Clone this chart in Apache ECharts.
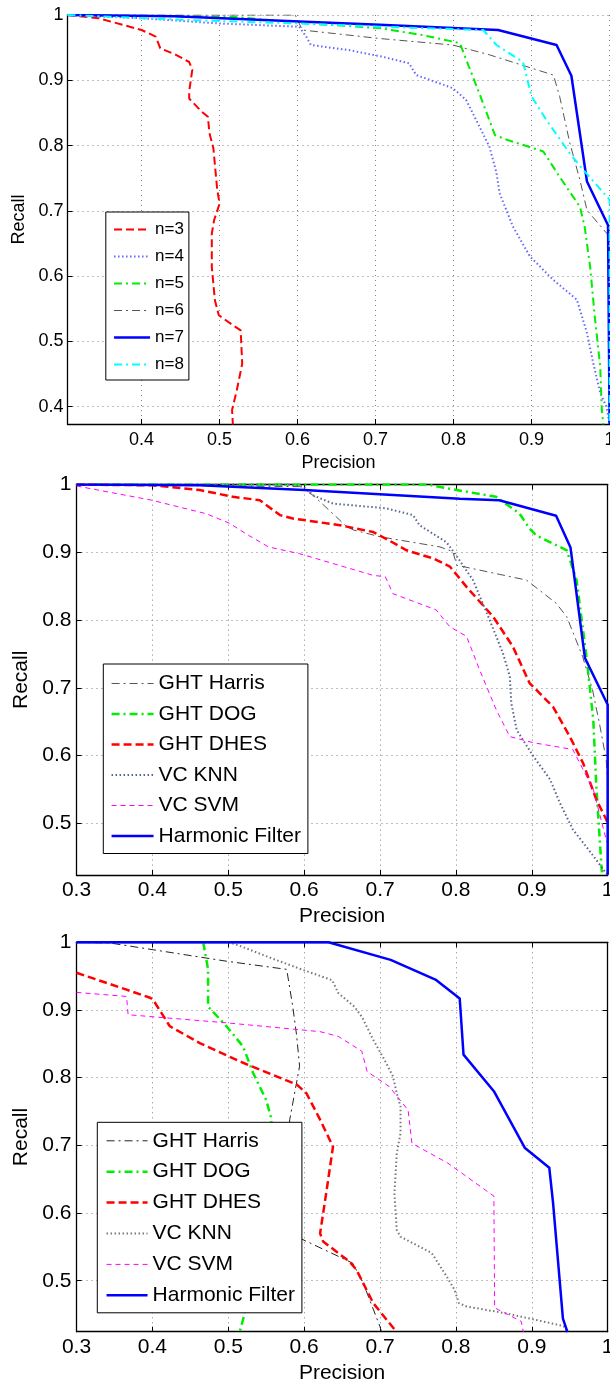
<!DOCTYPE html>
<html><head><meta charset="utf-8">
<script src="https://cdn.jsdelivr.net/npm/echarts@6/dist/echarts.min.js"></script>
<style>
html,body{margin:0;padding:0;background:#fff;width:610px;height:1385px;overflow:hidden;}
.c{position:absolute;left:0;width:610px;}
</style></head><body>
<div id="c1" class="c" style="top:0;height:470px"></div>
<div id="c2" class="c" style="top:460px;height:470px"></div>
<div id="c3" class="c" style="top:920px;height:465px"></div>
<script>
// ---------- tick labels ----------
const p1XTicks = [0.4, 0.5, 0.6, 0.7, 0.8, 0.9, 1];
const p1YTicks = [0.4, 0.5, 0.6, 0.7, 0.8, 0.9, 1];
const pXTicks = [0.3, 0.4, 0.5, 0.6, 0.7, 0.8, 0.9, 1];
const pYTicks = [0.5, 0.6, 0.7, 0.8, 0.9, 1];

// ---------- panel 1 : [precision, recall] ----------
const p1Names = ['n=3', 'n=4', 'n=5', 'n=6', 'n=7', 'n=8'];
const p1N3 = [[0.305,1.0],[0.345,0.995],[0.40,0.977],[0.418,0.967],[0.424,0.949],[0.444,0.939],[0.461,0.928],[0.465,0.916],[0.461,0.883],[0.461,0.872],[0.477,0.852],[0.485,0.844],[0.487,0.819],[0.492,0.796],[0.497,0.732],[0.500,0.711],[0.493,0.686],[0.490,0.665],[0.490,0.614],[0.494,0.563],[0.499,0.540],[0.517,0.525],[0.527,0.517],[0.529,0.466],[0.522,0.425],[0.516,0.395],[0.517,0.373]];
const p1N4 = [[0.305,1.0],[0.40,0.995],[0.50,0.987],[0.602,0.982],[0.611,0.967],[0.617,0.954],[0.667,0.946],[0.709,0.936],[0.743,0.926],[0.752,0.908],[0.799,0.888],[0.816,0.870],[0.829,0.839],[0.846,0.798],[0.855,0.758],[0.859,0.727],[0.876,0.676],[0.898,0.630],[0.928,0.594],[0.958,0.564],[0.971,0.513],[0.979,0.467],[0.988,0.421],[0.996,0.400],[1.0,0.373]];
const p1N5 = [[0.305,1.0],[0.52,0.997],[0.60,0.988],[0.705,0.980],[0.761,0.969],[0.808,0.957],[0.818,0.926],[0.833,0.880],[0.853,0.816],[0.868,0.809],[0.915,0.791],[0.936,0.752],[0.962,0.706],[0.968,0.676],[0.975,0.615],[0.981,0.538],[0.988,0.461],[0.990,0.395],[0.992,0.373]];
const p1N6 = [[0.305,1.0],[0.597,1.0],[0.606,0.977],[0.705,0.964],[0.799,0.954],[0.846,0.939],[0.928,0.908],[0.936,0.875],[0.949,0.804],[0.962,0.747],[0.971,0.701],[0.996,0.666],[1.0,0.660],[1.0,0.373]];
const p1N7 = [[0.305,1.0],[0.442,0.998],[0.602,0.990],[0.705,0.985],[0.857,0.977],[0.932,0.954],[0.951,0.907],[0.971,0.745],[0.998,0.678],[1.0,0.675],[1.0,0.373]];
const p1N8 = [[0.305,1.0],[0.467,0.992],[0.602,0.987],[0.705,0.982],[0.838,0.977],[0.855,0.954],[0.889,0.928],[0.900,0.875],[0.919,0.839],[0.949,0.788],[0.966,0.763],[1.0,0.717],[1.0,0.373]];

// ---------- panel 2 ----------
const methodNames = ['GHT Harris', 'GHT DOG', 'GHT DHES', 'VC KNN', 'VC SVM', 'Harmonic Filter'];
const p2Harris = [[0.3,1.0],[0.594,0.997],[0.612,0.984],[0.656,0.938],[0.665,0.933],[0.700,0.923],[0.779,0.908],[0.796,0.901],[0.801,0.881],[0.893,0.859],[0.932,0.825],[0.946,0.805],[0.967,0.746],[0.980,0.697],[0.989,0.648],[0.998,0.594],[1.0,0.560],[1.0,0.424]];
const p2Dog = [[0.3,1.0],[0.763,1.0],[0.801,0.992],[0.853,0.982],[0.884,0.957],[0.897,0.935],[0.906,0.925],[0.946,0.903],[0.959,0.859],[0.972,0.746],[0.981,0.653],[0.985,0.555],[0.992,0.432],[0.993,0.424]];
const p2Dhes = [[0.3,1.0],[0.40,0.999],[0.4625,0.992],[0.506,0.982],[0.5415,0.977],[0.568,0.955],[0.585,0.950],[0.647,0.940],[0.691,0.930],[0.708,0.920],[0.735,0.903],[0.770,0.891],[0.792,0.879],[0.814,0.849],[0.849,0.805],[0.875,0.761],[0.897,0.707],[0.928,0.672],[0.950,0.628],[0.9675,0.589],[0.985,0.535],[0.998,0.506],[1.0,0.500]];
const p2Knn = [[0.3,1.0],[0.58,1.0],[0.599,0.997],[0.612,0.984],[0.638,0.972],[0.708,0.965],[0.7435,0.955],[0.752,0.940],[0.7875,0.915],[0.800,0.896],[0.8225,0.859],[0.8445,0.800],[0.862,0.751],[0.871,0.717],[0.873,0.677],[0.880,0.638],[0.902,0.599],[0.924,0.565],[0.937,0.530],[0.954,0.491],[0.981,0.452],[0.994,0.432],[1.0,0.424]];
const p2Svm = [[0.3,0.998],[0.399,0.977],[0.471,0.957],[0.5014,0.943],[0.527,0.925],[0.553,0.908],[0.594,0.898],[0.691,0.866],[0.707,0.864],[0.717,0.839],[0.774,0.815],[0.792,0.790],[0.814,0.776],[0.831,0.727],[0.853,0.668],[0.871,0.628],[0.902,0.619],[0.954,0.609],[0.981,0.550],[0.998,0.476],[1.0,0.470]];
const p2Hf = [[0.3,1.0],[0.4625,0.999],[0.60,0.992],[0.805,0.979],[0.857,0.977],[0.932,0.954],[0.951,0.907],[0.970,0.744],[1.0,0.675],[1.0,0.424]];

// ---------- panel 3 ----------
const p3Harris = [[0.3,1.0],[0.344,0.999],[0.401,0.989],[0.498,0.972],[0.577,0.960],[0.585,0.905],[0.590,0.863],[0.594,0.817],[0.581,0.738],[0.575,0.650],[0.585,0.570],[0.594,0.563],[0.664,0.526],[0.678,0.496],[0.700,0.432],[0.702,0.424]];
const p3Dog = [[0.467,1.0],[0.4734,0.960],[0.4734,0.905],[0.4976,0.876],[0.5195,0.846],[0.5327,0.807],[0.550,0.767],[0.557,0.738],[0.555,0.700],[0.540,0.600],[0.530,0.520],[0.5217,0.452],[0.515,0.424]];
const p3Dhes = [[0.3,0.955],[0.366,0.930],[0.397,0.918],[0.401,0.915],[0.419,0.883],[0.423,0.876],[0.4625,0.851],[0.5195,0.822],[0.5635,0.802],[0.590,0.790],[0.603,0.777],[0.621,0.738],[0.638,0.698],[0.629,0.629],[0.621,0.570],[0.625,0.558],[0.660,0.528],[0.669,0.516],[0.691,0.467],[0.722,0.424]];
const p3Knn = [[0.3,1.0],[0.501,1.0],[0.517,0.994],[0.558,0.976],[0.599,0.959],[0.637,0.944],[0.645,0.925],[0.666,0.905],[0.676,0.890],[0.691,0.856],[0.706,0.826],[0.717,0.802],[0.722,0.777],[0.727,0.757],[0.727,0.718],[0.722,0.688],[0.719,0.629],[0.722,0.575],[0.727,0.565],[0.768,0.541],[0.788,0.506],[0.798,0.487],[0.804,0.467],[0.814,0.462],[0.865,0.452],[0.906,0.442],[0.942,0.433],[0.947,0.424]];
const p3Svm = [[0.3,0.926],[0.366,0.920],[0.368,0.893],[0.498,0.881],[0.621,0.868],[0.645,0.861],[0.676,0.839],[0.683,0.809],[0.712,0.787],[0.737,0.752],[0.742,0.703],[0.789,0.674],[0.850,0.625],[0.851,0.460],[0.886,0.440],[0.889,0.424]];
const p3Hf = [[0.3,1.0],[0.632,1.0],[0.714,0.974],[0.773,0.945],[0.805,0.917],[0.810,0.834],[0.850,0.780],[0.891,0.696],[0.923,0.667],[0.928,0.615],[0.941,0.444],[0.947,0.424]];

// ---------- styling ----------
const FONT = '"Liberation Sans", Arial, Helvetica, sans-serif';
const DASH = [8, 4];
const THIN_DASH = [5, 4];
const DOT = [1.5, 2.5];
const DASHDOT = [8, 4, 2, 4];

function ser(name, data, color, width, dash) {
  return {
    type: 'line', name: name, data: data, symbol: 'none', showSymbol: false,
    animation: false, silent: true, clip: true,
    lineStyle: { color: color, width: width, type: dash, cap: 'butt', join: 'round' },
    itemStyle: { color: color }
  };
}

function buildOption(P) {
  const tick = (vals) => ({ show: true, inside: true, length: 5, customValues: vals, lineStyle: { color: '#000', width: 1 } });
  const axLine = { show: true, onZero: false, lineStyle: { color: '#000', width: 1.3 } };
  const txt = { fontFamily: FONT, fontSize: P.fs, color: '#000' };
  const xAxis = [{
    type: 'value', gridIndex: 0, min: P.xMin, max: P.xMax, position: 'bottom',
    name: 'Precision', nameLocation: 'middle', nameGap: P.nameGapX, nameTextStyle: txt,
    axisLine: axLine, axisTick: tick(P.xTicks),
    axisLabel: Object.assign({ customValues: P.xTicks, margin: P.lmX, showMinLabel: true, showMaxLabel: true, hideOverlap: false }, txt),
    splitLine: { show: true, lineStyle: { color: '#808080', width: 1, type: [1, 4] } }
  }];
  const yAxis = [{
    type: 'value', gridIndex: 0, min: P.yMin, max: P.yMax, position: 'left',
    name: 'Recall', nameLocation: 'middle', nameGap: P.nameGapY, nameTextStyle: txt,
    axisLine: axLine, axisTick: tick(P.yTicks),
    axisLabel: Object.assign({ customValues: P.yTicks, margin: P.lmY, showMinLabel: true, showMaxLabel: true, hideOverlap: false }, txt),
    splitLine: { show: true, lineStyle: { color: '#808080', width: 1, type: [1, 4] } }
  }];
  if (P.box) {
    xAxis.push({ type: 'value', gridIndex: 0, min: P.xMin, max: P.xMax, position: 'top',
      axisLine: axLine, axisTick: tick(P.xTicks), axisLabel: { show: false }, splitLine: { show: false } });
    yAxis.push({ type: 'value', gridIndex: 0, min: P.yMin, max: P.yMax, position: 'right',
      axisLine: axLine, axisTick: tick(P.yTicks), axisLabel: { show: false }, splitLine: { show: false } });
  }
  return {
    animation: false,
    backgroundColor: 'transparent',
    grid: Object.assign({ containLabel: false, outerBoundsMode: 'none', show: false }, P.grid),
    xAxis: xAxis, yAxis: yAxis,
    legend: Object.assign({
      orient: 'vertical', selectedMode: false, backgroundColor: '#fff',
      borderColor: '#000', borderWidth: 1, borderRadius: 0,
      itemHeight: 12,
      itemStyle: { opacity: 0, borderWidth: 0 },
      textStyle: { fontFamily: FONT, fontSize: P.lfs, color: '#000', lineHeight: P.lfs },
      lineStyle: { width: 'inherit', type: 'inherit', color: 'inherit', opacity: 1 },
      data: P.names
    }, P.legend),
    series: P.series
  };
}

// ---------- panel 1 ----------
const c1 = echarts.init(document.getElementById('c1'), null, { renderer: 'canvas' });
c1.setOption(buildOption({
  xMin: 0.305, xMax: 1, yMin: 0.3735, yMax: 1, xTicks: p1XTicks, yTicks: p1YTicks,
  grid: { left: 67.5, right: 0.4, top: 15, bottom: 46 },
  fs: 18, lfs: 17, nameGapX: 21, nameGapY: 33, lmX: 7, lmY: 4, box: false,
  names: p1Names,
  legend: { left: 105.8, top: 212, itemWidth: 36, itemGap: 10, padding: [9, 5, 7, 7] },
  series: [
    ser('n=3', p1N3, '#ff0000', 2, DASH),
    ser('n=4', p1N4, '#6666ff', 2, DOT),
    ser('n=5', p1N5, '#00ee00', 2, DASHDOT),
    ser('n=6', p1N6, '#555555', 1, DASHDOT),
    ser('n=7', p1N7, '#0000ff', 2.5, 'solid'),
    ser('n=8', p1N8, '#00ffff', 2, DASHDOT)
  ]
}));

// ---------- panel 2 ----------
const c2 = echarts.init(document.getElementById('c2'), null, { renderer: 'canvas' });
c2.setOption(buildOption({
  xMin: 0.3, xMax: 1, yMin: 0.4237, yMax: 1, xTicks: pXTicks, yTicks: pYTicks,
  grid: { left: 76.5, right: 2.3, top: 24.6, bottom: 55 },
  fs: 21, lfs: 21, nameGapX: 28, nameGapY: 41.5, lmX: 5, lmY: 5, box: true,
  names: methodNames,
  legend: { left: 103.3, top: 204, itemWidth: 42, itemGap: 9.5, padding: [9, 7, 7, 7] },
  series: [
    ser('GHT Harris', p2Harris, '#555555', 1, DASHDOT),
    ser('GHT DOG', p2Dog, '#00ee00', 2.5, DASHDOT),
    ser('GHT DHES', p2Dhes, '#ff0000', 2.5, DASH),
    ser('VC KNN', p2Knn, '#56648f', 2, DOT),
    ser('VC SVM', p2Svm, '#ff00ff', 1, THIN_DASH),
    ser('Harmonic Filter', p2Hf, '#0000ff', 2.5, 'solid')
  ]
}));

// ---------- panel 3 ----------
const c3 = echarts.init(document.getElementById('c3'), null, { renderer: 'canvas' });
c3.setOption(buildOption({
  xMin: 0.3, xMax: 1, yMin: 0.4247, yMax: 1, xTicks: pXTicks, yTicks: pYTicks,
  grid: { left: 76.5, right: 2.3, top: 22.3, bottom: 53.3 },
  fs: 21, lfs: 21, nameGapX: 29, nameGapY: 41.5, lmX: 5, lmY: 5, box: true,
  names: methodNames,
  legend: { left: 97.3, top: 202.3, itemWidth: 41, itemGap: 9.9, padding: [8, 7, 7, 8] },
  series: [
    ser('GHT Harris', p3Harris, '#222222', 1, DASHDOT),
    ser('GHT DOG', p3Dog, '#00ee00', 2.5, DASHDOT),
    ser('GHT DHES', p3Dhes, '#ff0000', 2.5, DASH),
    ser('VC KNN', p3Knn, '#777777', 2, DOT),
    ser('VC SVM', p3Svm, '#ff00ff', 1, THIN_DASH),
    ser('Harmonic Filter', p3Hf, '#0000ff', 2.5, 'solid')
  ]
}));
</script>
</body></html>
